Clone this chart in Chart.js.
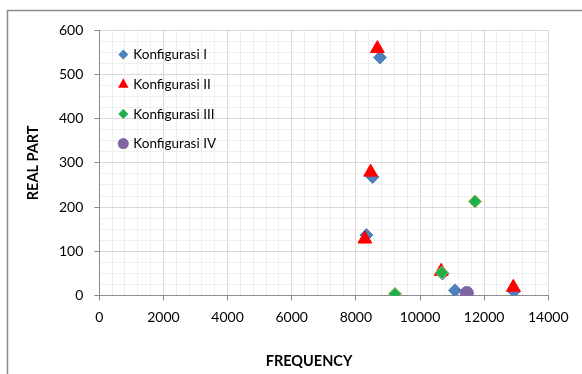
<!DOCTYPE html>
<html>
<head>
<meta charset="utf-8">
<script src="https://cdn.jsdelivr.net/npm/chart.js@4/dist/chart.umd.min.js"></script>
<style>
  html, body { margin: 0; padding: 0; background: #ffffff; }
  #wrap { position: relative; width: 582px; height: 374px; }
</style>
</head>
<body>
<div id="wrap"><canvas id="c" width="582" height="374"></canvas></div>
<script>
// ---- data ----
const seriesNames = ['Konfigurasi I', 'Konfigurasi II', 'Konfigurasi III', 'Konfigurasi IV'];
const cfg1X = [8750, 8520, 8330, 10700, 11090, 12930];
const cfg1Y = [538, 268, 137, 50, 12, 10];
const cfg2X = [8670, 8460, 8280, 10660, 12910];
const cfg2Y = [558, 279, 128, 55, 19];
const cfg3X = [9220, 10680, 11715];
const cfg3Y = [4, 52, 213];
const cfg4X = [11460];
const cfg4Y = [6];
const xTickLabels = ['0', '2000', '4000', '6000', '8000', '10000', '12000', '14000'];
const yTickLabels = ['0', '100', '200', '300', '400', '500', '600'];
const xTitle = 'FREQUENCY';
const yTitle = 'REAL PART';

function pts(xs, ys) { return xs.map((x, i) => ({ x: x, y: ys[i] })); }

const styles = [
  { pointStyle: 'rectRot', radius: 6.5, bg: '#4F81BD', border: '#4F81BD' },
  { pointStyle: 'triangle', radius: 8, bg: '#FF0000', border: '#FF0000' },
  { pointStyle: 'rectRot', radius: 6.5, bg: '#1DB04A', border: '#9BBB59' },
  { pointStyle: 'circle', radius: 6.5, bg: '#8064A2', border: '#8064A2' }
];
const allData = [pts(cfg1X, cfg1Y), pts(cfg2X, cfg2Y), pts(cfg3X, cfg3Y), pts(cfg4X, cfg4Y)];

const datasets = allData.map((d, i) => ({
  label: seriesNames[i],
  data: d,
  pointStyle: styles[i].pointStyle,
  pointRadius: styles[i].radius,
  pointHoverRadius: styles[i].radius,
  backgroundColor: styles[i].bg,
  borderColor: styles[i].border,
  pointBorderWidth: 1,
  showLine: false,
  order: 4 - i
}));

const borderPlugin = {
  id: 'outerBorder',
  beforeDraw(chart) {
    const ctx = chart.ctx;
    ctx.save();
    ctx.strokeStyle = '#8c8c8c';
    ctx.lineWidth = 1.5;
    ctx.strokeRect(7.5, 10.5, 700, 500);
    ctx.restore();
  }
};

function drawMarker(ctx, style, x, y, r) {
  ctx.beginPath();
  if (style === 'rectRot') {
    ctx.moveTo(x, y - r); ctx.lineTo(x + r, y); ctx.lineTo(x, y + r); ctx.lineTo(x - r, y);
  } else if (style === 'triangle') {
    ctx.moveTo(x, y - r); ctx.lineTo(x + r * 0.87, y + r * 0.6); ctx.lineTo(x - r * 0.87, y + r * 0.6);
  } else {
    ctx.arc(x, y, r, 0, Math.PI * 2);
  }
  ctx.closePath();
  ctx.fill();
}

const legendPlugin = {
  id: 'innerLegend',
  afterDraw(chart) {
    const ctx = chart.ctx;
    const a = chart.chartArea;
    ctx.save();
    ctx.font = '13.5px Lato';
    ctx.textBaseline = 'middle';
    ctx.textAlign = 'left';
    chart.data.datasets.forEach((ds, i) => {
      const y = a.top + 24.5 + i * 29.7;
      const x = a.left + 24;
      ctx.fillStyle = styles[i].bg;
      const r = styles[i].pointStyle === 'circle' ? 5.5 : (styles[i].pointStyle === 'triangle' ? 6 : 5);
      drawMarker(ctx, styles[i].pointStyle, x, y, r);
      ctx.fillStyle = '#000000';
      ctx.fillText(ds.label, x + 10, y + 0.5);
    });
    // x axis title
    ctx.font = 'bold 14.5px Lato';
    ctx.textAlign = 'center';
    ctx.fillText(xTitle, 309, 361);
    ctx.restore();
  }
};

new Chart(document.getElementById('c'), {
  type: 'scatter',
  data: { datasets: datasets },
  options: {
    responsive: false,
    animation: false,
    events: [],
    layout: { padding: { left: 0, right: 33.7, top: 30, bottom: 0 } },
    plugins: { legend: { display: false }, tooltip: { enabled: false } },
    scales: {
      x: {
        type: 'linear',
        min: 0, max: 14000,
        afterFit(scale) { scale.height = 78.3; },
        ticks: {
          stepSize: 400,
          autoSkip: false,
          maxRotation: 0, minRotation: 0,
          padding: 8,
          color: '#000000',
          font: { family: 'Lato', size: 14 },
          callback(v) { return v % 2000 === 0 ? xTickLabels[v / 2000] : ''; }
        },
        grid: {
          color(c) { return c.tick && c.tick.value % 2000 === 0 ? '#d9d9d9' : '#efefef'; },
          tickColor(c) { return c.tick && c.tick.value % 2000 === 0 ? '#8c8c8c' : 'rgba(0,0,0,0)'; },
          tickLength: 5,
          lineWidth: 1
        },
        border: { color: '#8c8c8c', width: 1 }
      },
      y: {
        type: 'linear',
        min: 0, max: 600,
        afterFit(scale) { scale.width = 99.3; },
        ticks: {
          stepSize: 25,
          autoSkip: false,
          padding: 11,
          color: '#000000',
          font: { family: 'Lato', size: 14 },
          callback(v) { return v % 100 === 0 ? yTickLabels[v / 100] : ''; }
        },
        grid: {
          color(c) { return c.tick && c.tick.value % 100 === 0 ? '#d9d9d9' : '#efefef'; },
          tickColor(c) { return c.tick && c.tick.value % 100 === 0 ? '#8c8c8c' : 'rgba(0,0,0,0)'; },
          tickLength: 5,
          lineWidth: 1
        },
        border: { color: '#8c8c8c', width: 1 },
        title: {
          display: true,
          text: yTitle,
          color: '#000000',
          font: { family: 'Lato', size: 14.5, weight: 'bold' },
          padding: { top: 25, bottom: 0 }
        }
      }
    }
  },
  plugins: [borderPlugin, legendPlugin]
});
</script>
</body>
</html>
